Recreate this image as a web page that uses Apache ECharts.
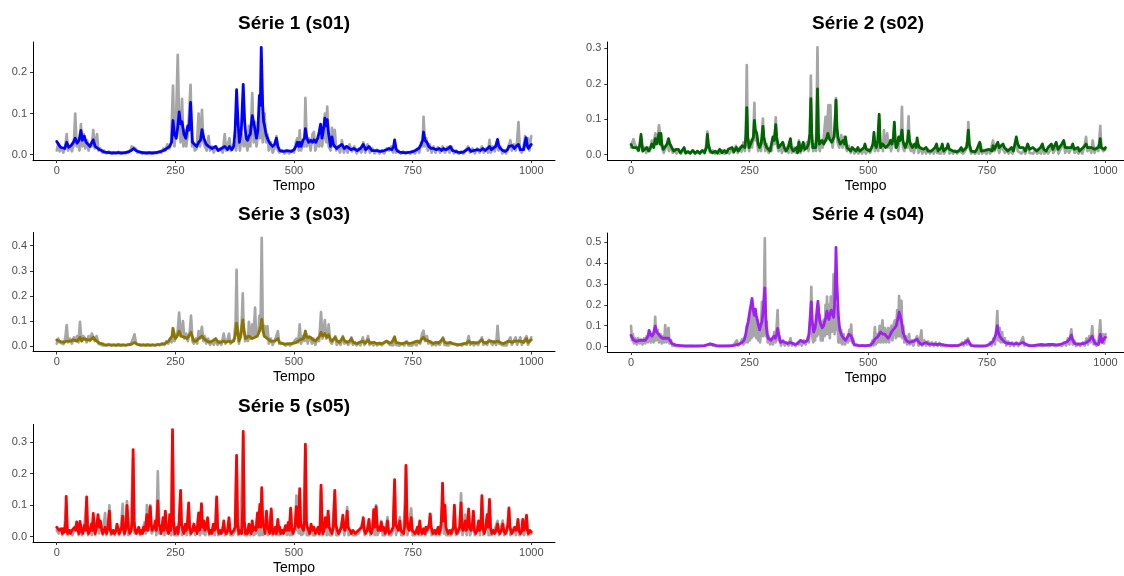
<!DOCTYPE html>
<html><head><meta charset="utf-8">
<script src="https://cdn.jsdelivr.net/npm/echarts@6/dist/echarts.min.js"></script>
<style>html,body{margin:0;padding:0;background:#fff}#c{width:1124px;height:576px}</style>
</head><body><div id="c"></div>
<script>
const titles = ['Série 1 (s01)','Série 2 (s02)','Série 3 (s03)','Série 4 (s04)','Série 5 (s05)'];
const xTicks = [0,250,500,750,1000];
const yTicks1 = [0,0.1,0.2];
const yTicks2 = [0,0.1,0.2,0.3];
const yTicks3 = [0,0.1,0.2,0.3,0.4];
const yTicks4 = [0,0.1,0.2,0.3,0.4,0.5];
const yTicks5 = [0,0.1,0.2,0.3];

const s01 = [[0,0.032],[4,0.025],[8,0.018],[12,0.02],[17,0.015],[21,0.03],[25,0.018],[30,0.022],[35,0.03],[39,0.04],[43,0.028],[47,0.035],[51,0.059],[54,0.035],[58,0.045],[62,0.03],[66,0.025],[70,0.02],[74,0.03],[77,0.036],[81,0.02],[85,0.02],[90,0.012],[95,0.01],[100,0.006],[110,0.005],[120,0.004],[130,0.005],[140,0.004],[150,0.006],[157,0.01],[162,0.015],[167,0.01],[175,0.006],[185,0.004],[195,0.005],[205,0.004],[215,0.006],[225,0.01],[232,0.015],[238,0.02],[242,0.03],[245,0.083],[248,0.05],[252,0.04],[255,0.067],[258,0.104],[261,0.075],[264,0.08],[268,0.05],[272,0.04],[276,0.07],[279,0.06],[282,0.127],[286,0.03],[290,0.025],[295,0.02],[299,0.03],[303,0.035],[306,0.061],[310,0.04],[315,0.025],[320,0.02],[327,0.015],[335,0.02],[340,0.01],[347,0.015],[354,0.02],[360,0.012],[364,0.02],[369,0.012],[373,0.02],[376,0.06],[379,0.158],[382,0.08],[385,0.03],[389,0.06],[393,0.171],[396,0.08],[399,0.04],[402,0.035],[405,0.045],[408,0.05],[412,0.095],[415,0.093],[418,0.06],[421,0.04],[424,0.06],[427,0.144],[429,0.12],[431,0.261],[434,0.12],[436,0.08],[438,0.07],[441,0.05],[444,0.04],[448,0.03],[451,0.025],[455,0.02],[459,0.025],[463,0.04],[466,0.02],[470,0.01],[478,0.008],[485,0.01],[489,0.01],[495,0.008],[500,0.012],[504,0.02],[507,0.03],[510,0.02],[512,0.03],[515,0.02],[519,0.035],[522,0.04],[524,0.063],[527,0.04],[531,0.03],[535,0.035],[539,0.03],[542,0.036],[546,0.03],[550,0.04],[553,0.055],[556,0.074],[559,0.04],[562,0.06],[565,0.089],[567,0.07],[570,0.085],[573,0.05],[577,0.02],[580,0.043],[583,0.025],[586,0.02],[590,0.015],[595,0.02],[601,0.025],[606,0.015],[611,0.02],[615,0.02],[620,0.012],[626,0.015],[633,0.01],[640,0.015],[646,0.025],[651,0.012],[658,0.02],[664,0.01],[670,0.01],[675,0.01],[682,0.008],[690,0.01],[695,0.012],[700,0.015],[706,0.012],[710,0.02],[712,0.036],[715,0.015],[717,0.01],[722,0.006],[730,0.005],[738,0.005],[745,0.006],[752,0.008],[758,0.012],[763,0.015],[768,0.025],[771,0.035],[773,0.055],[776,0.035],[780,0.03],[784,0.02],[789,0.015],[794,0.015],[800,0.012],[806,0.015],[811,0.01],[815,0.015],[820,0.012],[825,0.015],[829,0.02],[834,0.01],[840,0.008],[845,0.006],[850,0.005],[856,0.006],[862,0.01],[868,0.015],[873,0.008],[878,0.01],[882,0.01],[887,0.012],[893,0.01],[898,0.015],[903,0.01],[908,0.015],[912,0.02],[916,0.012],[920,0.015],[925,0.02],[929,0.037],[932,0.02],[935,0.015],[940,0.01],[945,0.008],[950,0.012],[953,0.02],[956,0.02],[960,0.022],[964,0.015],[968,0.02],[973,0.025],[977,0.012],[980,0.01],[984,0.012],[986,0.025],[989,0.041],[992,0.02],[994,0.015],[997,0.02],[1000,0.025]];
const s01ref = [[0,0.01],[3,0.025],[6,0.008],[10,0.015],[14,0.005],[18,0.02],[21,0.05],[24,0.01],[28,0.02],[32,0.008],[36,0.025],[39,0.1],[42,0.02],[45,0.03],[48,0.01],[51,0.074],[54,0.02],[57,0.05],[60,0.015],[64,0.035],[67,0.01],[71,0.025],[74,0.02],[77,0.06],[80,0.015],[85,0.05],[88,0.01],[92,0.015],[96,0.005],[100,0.01],[105,0.003],[110,0.008],[115,0.002],[120,0.006],[125,0.003],[130,0.007],[135,0.002],[140,0.005],[145,0.003],[150,0.008],[155,0.01],[158,0.02],[162,0.02],[166,0.015],[170,0.005],[175,0.008],[180,0.002],[185,0.006],[190,0.002],[195,0.005],[200,0.002],[205,0.006],[210,0.003],[215,0.008],[220,0.005],[225,0.015],[229,0.01],[233,0.025],[237,0.015],[241,0.03],[245,0.168],[248,0.02],[251,0.06],[255,0.243],[258,0.08],[261,0.03],[264,0.136],[267,0.02],[270,0.06],[273,0.02],[276,0.05],[279,0.1],[282,0.17],[285,0.02],[288,0.03],[291,0.01],[295,0.015],[299,0.1],[302,0.02],[306,0.109],[309,0.03],[312,0.02],[316,0.01],[320,0.045],[323,0.01],[327,0.02],[331,0.005],[335,0.02],[340,0.01],[345,0.015],[350,0.005],[354,0.05],[357,0.01],[360,0.02],[364,0.04],[367,0.01],[371,0.02],[375,0.03],[378,0.01],[382,0.06],[386,0.01],[390,0.05],[394,0.02],[398,0.035],[402,0.01],[405,0.07],[408,0.02],[412,0.15],[415,0.03],[418,0.08],[421,0.02],[424,0.05],[428,0.04],[431,0.12],[434,0.03],[438,0.1],[441,0.03],[444,0.05],[447,0.01],[451,0.03],[455,0.005],[459,0.015],[463,0.045],[466,0.01],[470,0.005],[475,0.01],[480,0.003],[485,0.008],[490,0.003],[495,0.01],[500,0.005],[504,0.03],[507,0.04],[510,0.01],[512,0.059],[515,0.01],[519,0.03],[522,0.02],[524,0.138],[527,0.02],[531,0.04],[535,0.01],[539,0.05],[542,0.055],[545,0.01],[549,0.03],[553,0.02],[556,0.06],[559,0.02],[562,0.04],[565,0.1],[568,0.03],[570,0.117],[573,0.02],[577,0.01],[580,0.065],[583,0.02],[586,0.06],[589,0.01],[593,0.02],[597,0.005],[601,0.035],[605,0.005],[609,0.02],[613,0.005],[617,0.025],[622,0.008],[627,0.02],[632,0.003],[637,0.015],[642,0.005],[646,0.03],[650,0.005],[655,0.025],[660,0.005],[665,0.015],[670,0.003],[675,0.012],[680,0.003],[685,0.01],[690,0.003],[695,0.015],[700,0.01],[705,0.02],[709,0.005],[712,0.03],[715,0.005],[720,0.01],[725,0.002],[730,0.008],[735,0.002],[740,0.006],[745,0.002],[750,0.008],[755,0.003],[760,0.015],[764,0.005],[768,0.03],[771,0.02],[773,0.092],[776,0.02],[779,0.04],[782,0.01],[786,0.025],[790,0.005],[794,0.02],[798,0.005],[803,0.018],[808,0.005],[813,0.02],[818,0.005],[823,0.018],[828,0.005],[832,0.02],[837,0.003],[842,0.01],[847,0.002],[852,0.008],[857,0.002],[862,0.012],[867,0.02],[871,0.005],[876,0.015],[881,0.003],[886,0.015],[891,0.005],[896,0.02],[900,0.005],[905,0.015],[909,0.005],[912,0.036],[915,0.005],[919,0.02],[923,0.008],[927,0.03],[931,0.01],[935,0.02],[939,0.003],[943,0.01],[947,0.003],[952,0.02],[956,0.035],[959,0.01],[963,0.025],[967,0.01],[970,0.03],[973,0.079],[976,0.01],[980,0.005],[984,0.02],[987,0.045],[990,0.02],[993,0.04],[996,0.01],[1000,0.045]];

const s02 = [[0,0.029],[4,0.02],[8,0.015],[12,0.02],[16,0.012],[19,0.03],[21,0.057],[23,0.03],[25,0.01],[29,0.015],[33,0.02],[37,0.01],[41,0.02],[44,0.03],[48,0.02],[51,0.045],[54,0.03],[57,0.035],[59,0.06],[61,0.03],[63,0.06],[65,0.03],[68,0.015],[72,0.02],[76,0.03],[79,0.045],[82,0.03],[86,0.02],[90,0.01],[95,0.015],[100,0.015],[104,0.005],[108,0.01],[112,0.02],[115,0.005],[120,0.008],[125,0.004],[130,0.012],[135,0.004],[140,0.01],[145,0.004],[150,0.012],[155,0.006],[159,0.02],[161,0.057],[163,0.03],[167,0.01],[172,0.005],[177,0.01],[182,0.004],[187,0.015],[192,0.005],[197,0.012],[201,0.005],[205,0.015],[209,0.01],[213,0.02],[217,0.008],[222,0.02],[226,0.01],[230,0.015],[234,0.025],[237,0.03],[240,0.02],[242,0.05],[244,0.133],[246,0.05],[249,0.02],[252,0.03],[255,0.04],[258,0.05],[260,0.097],[262,0.07],[265,0.06],[268,0.03],[271,0.02],[274,0.03],[276,0.05],[278,0.08],[280,0.05],[283,0.03],[286,0.02],[290,0.02],[293,0.01],[296,0.03],[299,0.05],[302,0.04],[305,0.085],[307,0.05],[311,0.02],[315,0.015],[320,0.035],[323,0.02],[327,0.01],[331,0.02],[334,0.02],[336,0.045],[338,0.02],[342,0.01],[345,0.015],[349,0.02],[351,0.005],[354,0.035],[357,0.01],[360,0.02],[363,0.035],[366,0.015],[369,0.02],[371,0.02],[374,0.03],[377,0.06],[379,0.158],[381,0.06],[383,0.02],[386,0.025],[389,0.02],[391,0.05],[393,0.186],[395,0.06],[397,0.03],[400,0.035],[403,0.04],[406,0.03],[410,0.04],[413,0.05],[415,0.06],[418,0.045],[420,0.05],[423,0.035],[425,0.03],[428,0.05],[430,0.09],[432,0.154],[434,0.08],[436,0.05],[438,0.04],[441,0.03],[443,0.03],[447,0.04],[450,0.03],[452,0.05],[455,0.02],[459,0.02],[463,0.01],[466,0.02],[470,0.015],[474,0.01],[478,0.02],[482,0.01],[486,0.015],[491,0.02],[493,0.03],[496,0.015],[498,0.015],[503,0.01],[507,0.02],[510,0.03],[512,0.063],[514,0.03],[517,0.02],[520,0.04],[523,0.114],[525,0.04],[526,0.02],[530,0.03],[533,0.03],[537,0.02],[540,0.025],[544,0.03],[547,0.04],[550,0.03],[553,0.05],[555,0.092],[557,0.04],[559,0.02],[562,0.03],[564,0.05],[567,0.04],[569,0.05],[571,0.069],[573,0.04],[575,0.03],[578,0.02],[580,0.02],[583,0.04],[585,0.067],[587,0.04],[589,0.03],[593,0.02],[596,0.025],[598,0.03],[601,0.02],[603,0.047],[605,0.03],[608,0.02],[612,0.025],[616,0.015],[620,0.02],[622,0.02],[626,0.01],[630,0.015],[633,0.01],[637,0.015],[641,0.02],[644,0.03],[647,0.01],[651,0.012],[654,0.02],[656,0.03],[659,0.01],[663,0.015],[666,0.02],[668,0.03],[671,0.015],[675,0.01],[679,0.01],[683,0.015],[687,0.008],[692,0.012],[696,0.02],[699,0.01],[703,0.012],[707,0.02],[709,0.04],[711,0.069],[713,0.03],[717,0.01],[721,0.015],[725,0.008],[729,0.015],[733,0.02],[735,0.035],[738,0.01],[742,0.005],[746,0.012],[750,0.008],[754,0.015],[758,0.02],[761,0.01],[763,0.025],[766,0.015],[770,0.02],[773,0.035],[776,0.02],[780,0.015],[784,0.03],[787,0.02],[790,0.015],[794,0.01],[798,0.015],[802,0.02],[806,0.01],[809,0.03],[812,0.05],[815,0.03],[819,0.02],[823,0.015],[827,0.02],[831,0.01],[836,0.03],[840,0.015],[844,0.01],[847,0.02],[851,0.02],[855,0.01],[859,0.015],[863,0.02],[867,0.03],[870,0.015],[875,0.01],[879,0.02],[883,0.015],[886,0.03],[889,0.015],[893,0.02],[896,0.035],[900,0.015],[904,0.02],[908,0.03],[912,0.04],[915,0.02],[918,0.025],[921,0.02],[925,0.015],[928,0.02],[931,0.03],[934,0.015],[938,0.01],[942,0.02],[945,0.01],[949,0.015],[953,0.02],[956,0.025],[959,0.03],[962,0.02],[966,0.015],[970,0.02],[973,0.025],[977,0.015],[981,0.02],[985,0.02],[987,0.03],[989,0.045],[991,0.02],[994,0.015],[997,0.015],[1000,0.02]];
const s02ref = [[0,0.02],[3,0.035],[5,0.044],[8,0.03],[12,0.035],[15,0.01],[18,0.03],[21,0.05],[24,0.01],[28,0.02],[32,0.005],[36,0.02],[40,0.01],[44,0.04],[47,0.02],[51,0.06],[54,0.04],[57,0.06],[59,0.083],[62,0.05],[65,0.02],[69,0.005],[73,0.02],[77,0.035],[80,0.01],[84,0.025],[88,0.005],[92,0.015],[96,0.003],[100,0.012],[105,0.003],[110,0.015],[115,0.003],[120,0.01],[125,0.003],[130,0.01],[135,0.002],[140,0.008],[145,0.003],[150,0.01],[155,0.003],[159,0.03],[161,0.065],[163,0.02],[167,0.005],[172,0.012],[177,0.003],[182,0.01],[187,0.003],[192,0.012],[197,0.003],[202,0.01],[207,0.003],[212,0.015],[216,0.005],[221,0.025],[225,0.005],[229,0.02],[233,0.008],[237,0.035],[240,0.01],[242,0.06],[244,0.253],[246,0.03],[249,0.01],[252,0.04],[255,0.02],[258,0.06],[260,0.146],[262,0.04],[265,0.05],[268,0.01],[271,0.03],[274,0.01],[276,0.06],[278,0.102],[280,0.04],[283,0.01],[286,0.03],[290,0.005],[293,0.02],[296,0.01],[299,0.04],[302,0.03],[305,0.105],[307,0.03],[311,0.01],[315,0.025],[318,0.005],[320,0.03],[324,0.01],[328,0.02],[332,0.005],[336,0.04],[339,0.005],[343,0.02],[347,0.005],[351,0.02],[354,0.04],[357,0.005],[361,0.03],[364,0.01],[368,0.025],[371,0.035],[374,0.01],[377,0.05],[379,0.223],[381,0.04],[384,0.01],[387,0.03],[390,0.01],[393,0.303],[395,0.03],[398,0.01],[401,0.04],[404,0.02],[407,0.06],[410,0.107],[412,0.04],[414,0.09],[416,0.14],[418,0.06],[420,0.14],[422,0.05],[425,0.02],[428,0.06],[430,0.1],[432,0.16],[434,0.05],[436,0.03],[439,0.02],[443,0.055],[446,0.02],[449,0.05],[452,0.03],[455,0.01],[459,0.025],[463,0.005],[467,0.02],[471,0.003],[475,0.015],[479,0.003],[483,0.012],[487,0.003],[491,0.015],[495,0.003],[500,0.015],[504,0.005],[508,0.02],[512,0.05],[514,0.01],[518,0.03],[521,0.01],[523,0.1],[525,0.02],[528,0.03],[531,0.01],[533,0.069],[535,0.03],[538,0.04],[540,0.06],[542,0.02],[545,0.04],[548,0.01],[551,0.03],[553,0.04],[555,0.08],[557,0.02],[560,0.03],[563,0.01],[566,0.04],[569,0.06],[571,0.135],[573,0.02],[576,0.01],[579,0.03],[582,0.02],[585,0.108],[587,0.02],[590,0.01],[593,0.03],[596,0.005],[599,0.02],[603,0.04],[606,0.005],[610,0.02],[614,0.003],[618,0.015],[622,0.003],[626,0.015],[630,0.003],[634,0.012],[638,0.003],[642,0.025],[645,0.005],[649,0.01],[653,0.003],[656,0.025],[660,0.003],[664,0.015],[668,0.025],[671,0.003],[675,0.01],[679,0.003],[683,0.012],[687,0.003],[692,0.01],[696,0.015],[700,0.003],[705,0.012],[709,0.03],[711,0.092],[713,0.02],[717,0.003],[721,0.01],[725,0.002],[729,0.01],[733,0.003],[737,0.03],[740,0.003],[745,0.01],[749,0.002],[753,0.012],[757,0.003],[761,0.03],[763,0.04],[766,0.01],[770,0.03],[773,0.02],[776,0.005],[780,0.025],[784,0.03],[788,0.005],[792,0.015],[796,0.003],[800,0.012],[804,0.003],[808,0.02],[812,0.04],[815,0.01],[819,0.015],[823,0.003],[827,0.012],[831,0.003],[836,0.025],[840,0.005],[844,0.01],[848,0.003],[852,0.015],[856,0.003],[860,0.01],[864,0.003],[867,0.025],[871,0.003],[875,0.012],[879,0.003],[883,0.012],[887,0.025],[890,0.005],[894,0.015],[897,0.03],[901,0.003],[905,0.015],[909,0.02],[912,0.035],[915,0.005],[919,0.02],[923,0.005],[927,0.015],[931,0.025],[935,0.005],[939,0.012],[943,0.003],[947,0.012],[951,0.003],[955,0.02],[959,0.05],[962,0.01],[966,0.02],[970,0.005],[973,0.04],[977,0.005],[981,0.02],[985,0.01],[987,0.04],[989,0.081],[991,0.02],[995,0.01],[1000,0.015]];

const s03 = [[0,0.024],[4,0.02],[8,0.018],[12,0.02],[16,0.015],[21,0.02],[25,0.015],[30,0.02],[35,0.025],[39,0.03],[43,0.02],[46,0.025],[49,0.035],[53,0.02],[56,0.03],[60,0.037],[64,0.025],[68,0.02],[72,0.025],[77,0.035],[81,0.025],[85,0.02],[90,0.012],[95,0.01],[100,0.006],[110,0.005],[120,0.004],[130,0.005],[140,0.004],[150,0.005],[158,0.008],[164,0.015],[170,0.007],[180,0.004],[190,0.005],[200,0.004],[210,0.005],[220,0.007],[228,0.01],[232,0.015],[236,0.02],[240,0.025],[243,0.04],[245,0.071],[248,0.04],[250,0.03],[254,0.04],[258,0.06],[262,0.04],[266,0.04],[270,0.035],[275,0.03],[279,0.035],[283,0.055],[286,0.035],[289,0.02],[294,0.02],[299,0.03],[303,0.03],[306,0.04],[310,0.03],[314,0.025],[317,0.02],[322,0.015],[328,0.02],[335,0.03],[340,0.015],[346,0.015],[352,0.02],[357,0.015],[363,0.02],[368,0.015],[373,0.02],[376,0.04],[379,0.091],[382,0.05],[384,0.02],[388,0.04],[392,0.104],[395,0.06],[398,0.03],[402,0.035],[405,0.04],[409,0.035],[412,0.03],[415,0.035],[418,0.035],[421,0.035],[423,0.04],[427,0.06],[430,0.08],[432,0.107],[435,0.06],[437,0.04],[441,0.035],[444,0.03],[448,0.025],[451,0.02],[455,0.015],[459,0.02],[463,0.025],[466,0.03],[469,0.015],[472,0.01],[480,0.008],[487,0.01],[493,0.01],[500,0.012],[505,0.015],[509,0.02],[512,0.025],[516,0.02],[520,0.03],[524,0.06],[527,0.035],[531,0.03],[535,0.035],[540,0.025],[545,0.02],[550,0.03],[554,0.04],[557,0.055],[561,0.04],[565,0.05],[569,0.035],[573,0.045],[576,0.03],[580,0.02],[584,0.025],[587,0.035],[591,0.02],[596,0.015],[600,0.02],[603,0.035],[607,0.02],[612,0.015],[617,0.02],[621,0.03],[625,0.015],[629,0.012],[633,0.01],[638,0.015],[642,0.02],[645,0.02],[650,0.012],[656,0.025],[660,0.012],[664,0.015],[668,0.015],[674,0.01],[680,0.012],[686,0.01],[691,0.015],[696,0.02],[701,0.012],[706,0.015],[709,0.02],[712,0.037],[715,0.015],[717,0.01],[722,0.012],[727,0.01],[732,0.012],[737,0.015],[742,0.01],[747,0.012],[752,0.015],[759,0.02],[764,0.015],[768,0.025],[773,0.035],[777,0.025],[780,0.03],[784,0.02],[789,0.015],[794,0.01],[799,0.015],[804,0.012],[809,0.02],[814,0.03],[818,0.015],[823,0.012],[829,0.015],[834,0.01],[840,0.008],[847,0.005],[853,0.008],[858,0.01],[864,0.012],[868,0.02],[873,0.012],[878,0.015],[883,0.012],[889,0.015],[893,0.02],[896,0.025],[900,0.015],[905,0.012],[910,0.02],[915,0.02],[919,0.025],[923,0.015],[926,0.02],[929,0.02],[933,0.015],[937,0.012],[942,0.01],[947,0.015],[952,0.02],[956,0.025],[960,0.015],[965,0.02],[970,0.02],[974,0.015],[977,0.02],[980,0.02],[984,0.015],[987,0.02],[990,0.03],[993,0.015],[997,0.02],[1000,0.025]];
const s03ref = [[0,0.01],[3,0.03],[6,0.015],[10,0.02],[14,0.008],[18,0.03],[21,0.084],[24,0.015],[28,0.03],[32,0.01],[36,0.035],[39,0.02],[43,0.04],[46,0.015],[49,0.097],[52,0.02],[56,0.04],[60,0.03],[63,0.015],[67,0.04],[70,0.02],[74,0.05],[77,0.055],[80,0.02],[84,0.04],[88,0.01],[92,0.015],[96,0.003],[100,0.01],[105,0.002],[110,0.008],[115,0.002],[120,0.007],[125,0.002],[130,0.008],[135,0.002],[140,0.006],[145,0.002],[150,0.008],[155,0.005],[160,0.025],[164,0.047],[167,0.01],[172,0.005],[177,0.002],[182,0.007],[187,0.002],[192,0.006],[197,0.002],[202,0.007],[207,0.002],[212,0.008],[217,0.003],[222,0.012],[227,0.005],[231,0.02],[235,0.01],[239,0.03],[242,0.015],[245,0.06],[248,0.02],[251,0.04],[255,0.06],[258,0.133],[261,0.04],[264,0.06],[266,0.1],[269,0.03],[273,0.05],[276,0.02],[280,0.05],[283,0.121],[286,0.02],[289,0.01],[293,0.03],[296,0.01],[299,0.06],[302,0.03],[306,0.077],[309,0.02],[312,0.04],[315,0.01],[319,0.03],[323,0.005],[327,0.02],[331,0.005],[335,0.025],[339,0.005],[343,0.02],[347,0.005],[352,0.05],[355,0.01],[359,0.02],[363,0.05],[366,0.01],[370,0.02],[374,0.03],[377,0.1],[379,0.304],[381,0.08],[384,0.01],[388,0.05],[390,0.1],[392,0.21],[394,0.07],[397,0.02],[400,0.04],[403,0.02],[405,0.097],[408,0.03],[411,0.06],[412,0.087],[415,0.04],[418,0.153],[420,0.04],[423,0.06],[425,0.05],[427,0.12],[429,0.06],[430,0.15],[432,0.431],[434,0.1],[436,0.06],[438,0.08],[441,0.04],[444,0.08],[447,0.01],[451,0.03],[455,0.005],[459,0.02],[463,0.04],[466,0.06],[469,0.01],[473,0.005],[477,0.01],[482,0.002],[487,0.008],[492,0.002],[497,0.01],[501,0.005],[505,0.03],[509,0.015],[512,0.087],[515,0.01],[519,0.04],[522,0.02],[525,0.05],[529,0.01],[532,0.04],[535,0.04],[538,0.01],[541,0.03],[545,0.005],[549,0.03],[553,0.02],[557,0.135],[560,0.03],[563,0.06],[565,0.104],[568,0.03],[571,0.04],[573,0.087],[576,0.02],[580,0.01],[584,0.03],[587,0.04],[590,0.005],[594,0.02],[598,0.005],[603,0.04],[606,0.01],[610,0.02],[614,0.005],[618,0.015],[621,0.035],[624,0.005],[628,0.015],[632,0.003],[636,0.012],[640,0.003],[645,0.035],[648,0.005],[652,0.015],[656,0.04],[659,0.005],[663,0.015],[667,0.003],[671,0.012],[675,0.003],[680,0.01],[685,0.003],[690,0.012],[694,0.02],[698,0.025],[702,0.005],[706,0.012],[709,0.003],[712,0.035],[715,0.005],[719,0.01],[723,0.002],[728,0.01],[732,0.002],[737,0.02],[741,0.003],[745,0.01],[749,0.002],[754,0.012],[758,0.003],[762,0.02],[766,0.01],[770,0.05],[773,0.061],[776,0.02],[780,0.04],[783,0.01],[787,0.02],[791,0.003],[795,0.012],[799,0.003],[803,0.015],[807,0.005],[811,0.02],[814,0.035],[817,0.005],[821,0.012],[825,0.003],[830,0.01],[834,0.003],[839,0.008],[844,0.002],[849,0.006],[854,0.002],[859,0.01],[864,0.005],[868,0.04],[871,0.005],[875,0.015],[879,0.003],[884,0.015],[888,0.005],[892,0.02],[896,0.035],[899,0.005],[903,0.015],[907,0.005],[911,0.025],[915,0.03],[918,0.005],[922,0.02],[926,0.005],[929,0.081],[932,0.01],[936,0.015],[940,0.003],[944,0.01],[948,0.003],[952,0.02],[956,0.035],[959,0.005],[963,0.02],[967,0.035],[970,0.005],[974,0.02],[977,0.035],[980,0.005],[984,0.02],[987,0.03],[990,0.04],[993,0.005],[997,0.02],[1000,0.035]];

const s04 = [[0,0.054],[3,0.04],[6,0.03],[8,0.03],[11,0.025],[15,0.025],[18,0.03],[21,0.025],[23,0.03],[27,0.025],[30,0.03],[33,0.035],[36,0.05],[38,0.078],[41,0.06],[44,0.05],[47,0.06],[51,0.098],[54,0.07],[58,0.06],[61,0.05],[63,0.045],[66,0.04],[69,0.035],[72,0.04],[76,0.045],[79,0.04],[82,0.03],[86,0.015],[90,0.01],[95,0.007],[104,0.005],[115,0.003],[125,0.003],[135,0.003],[145,0.003],[155,0.005],[162,0.01],[167,0.012],[173,0.01],[180,0.005],[190,0.003],[200,0.003],[210,0.003],[218,0.006],[223,0.01],[228,0.012],[234,0.02],[238,0.03],[241,0.05],[244,0.09],[247,0.12],[249,0.15],[252,0.19],[255,0.231],[258,0.17],[260,0.15],[262,0.18],[264,0.15],[267,0.12],[269,0.1],[271,0.08],[273,0.1],[276,0.12],[278,0.16],[280,0.22],[282,0.282],[284,0.15],[285,0.1],[287,0.06],[289,0.04],[292,0.035],[295,0.03],[298,0.04],[301,0.05],[304,0.04],[307,0.06],[309,0.087],[312,0.05],[315,0.02],[320,0.025],[325,0.02],[330,0.015],[336,0.02],[341,0.015],[346,0.01],[351,0.015],[354,0.02],[357,0.03],[361,0.025],[365,0.02],[368,0.02],[372,0.03],[375,0.06],[378,0.15],[380,0.215],[382,0.12],[385,0.07],[388,0.09],[390,0.12],[392,0.18],[394,0.218],[396,0.16],[398,0.12],[401,0.1],[403,0.09],[406,0.1],[408,0.12],[411,0.14],[413,0.17],[415,0.15],[417,0.13],[419,0.15],[422,0.175],[424,0.16],[427,0.14],[429,0.2],[431,0.35],[432,0.476],[434,0.3],[437,0.15],[439,0.1],[440,0.08],[443,0.06],[445,0.05],[448,0.04],[452,0.03],[455,0.04],[457,0.05],[459,0.06],[462,0.055],[464,0.05],[467,0.03],[470,0.01],[477,0.006],[484,0.005],[491,0.005],[498,0.005],[505,0.008],[510,0.02],[514,0.035],[517,0.04],[521,0.05],[524,0.055],[526,0.07],[528,0.065],[530,0.06],[533,0.055],[535,0.06],[538,0.05],[542,0.04],[545,0.05],[549,0.07],[552,0.08],[556,0.09],[559,0.1],[561,0.12],[563,0.14],[565,0.166],[567,0.15],[570,0.12],[572,0.09],[573,0.07],[576,0.05],[580,0.03],[583,0.025],[586,0.02],[590,0.02],[594,0.025],[598,0.025],[603,0.035],[607,0.02],[612,0.01],[617,0.015],[622,0.02],[627,0.012],[631,0.01],[636,0.012],[640,0.015],[645,0.01],[650,0.012],[654,0.015],[660,0.008],[666,0.006],[672,0.005],[680,0.005],[689,0.005],[695,0.01],[700,0.015],[705,0.02],[710,0.03],[713,0.02],[717,0.005],[725,0.003],[735,0.003],[742,0.003],[750,0.005],[755,0.01],[759,0.015],[763,0.025],[766,0.04],[769,0.06],[772,0.1],[774,0.07],[777,0.05],[780,0.04],[784,0.03],[788,0.02],[794,0.015],[800,0.015],[806,0.012],[812,0.015],[818,0.012],[822,0.015],[826,0.02],[830,0.012],[835,0.008],[840,0.005],[848,0.005],[857,0.008],[865,0.01],[872,0.008],[880,0.01],[889,0.01],[897,0.008],[904,0.01],[910,0.015],[915,0.02],[920,0.025],[924,0.035],[928,0.055],[931,0.03],[935,0.015],[940,0.012],[945,0.012],[949,0.015],[955,0.015],[960,0.02],[963,0.025],[966,0.03],[969,0.04],[972,0.05],[975,0.03],[978,0.015],[980,0.01],[985,0.01],[987,0.025],[989,0.058],[991,0.04],[993,0.02],[996,0.035],[1000,0.045]];
const s04ref = [[0,0.1],[2,0.03],[4,0.06],[6,0.015],[9,0.04],[12,0.01],[15,0.04],[18,0.015],[21,0.035],[24,0.01],[27,0.04],[30,0.015],[33,0.05],[36,0.02],[39,0.07],[42,0.02],[45,0.06],[48,0.02],[51,0.143],[53,0.03],[56,0.08],[59,0.02],[62,0.06],[65,0.015],[68,0.05],[70,0.02],[72,0.103],[75,0.02],[77,0.07],[79,0.09],[81,0.015],[84,0.03],[87,0.005],[91,0.01],[96,0.002],[105,0.003],[115,0.001],[125,0.002],[135,0.001],[145,0.002],[155,0.003],[162,0.008],[167,0.015],[172,0.005],[180,0.002],[190,0.002],[200,0.002],[210,0.003],[216,0.008],[220,0.003],[223,0.03],[226,0.005],[230,0.015],[234,0.035],[237,0.01],[240,0.05],[242,0.02],[244,0.1],[246,0.02],[248,0.12],[250,0.03],[252,0.15],[254,0.04],[256,0.2],[258,0.05],[260,0.14],[262,0.18],[264,0.04],[266,0.13],[268,0.03],[270,0.09],[272,0.02],[274,0.1],[276,0.215],[278,0.05],[280,0.2],[282,0.519],[284,0.05],[286,0.12],[288,0.02],[290,0.05],[293,0.01],[296,0.04],[299,0.01],[302,0.07],[305,0.02],[307,0.1],[309,0.175],[311,0.03],[313,0.05],[316,0.005],[320,0.03],[324,0.005],[328,0.02],[332,0.005],[336,0.04],[339,0.005],[343,0.015],[347,0.003],[351,0.02],[354,0.01],[357,0.03],[360,0.005],[364,0.03],[368,0.01],[372,0.04],[375,0.02],[377,0.1],[379,0.2],[380,0.287],[382,0.05],[384,0.02],[386,0.1],[388,0.03],[390,0.15],[392,0.05],[394,0.2],[396,0.06],[398,0.15],[400,0.03],[402,0.12],[404,0.03],[406,0.13],[408,0.05],[410,0.2],[412,0.06],[413,0.24],[415,0.06],[417,0.2],[419,0.04],[421,0.24],[423,0.07],[425,0.18],[427,0.346],[429,0.06],[431,0.2],[433,0.08],[435,0.15],[437,0.02],[439,0.1],[441,0.02],[443,0.08],[445,0.01],[448,0.06],[451,0.01],[454,0.04],[457,0.02],[460,0.08],[462,0.03],[464,0.106],[466,0.02],[468,0.04],[471,0.005],[476,0.01],[481,0.002],[487,0.006],[493,0.002],[499,0.006],[505,0.002],[509,0.03],[511,0.005],[514,0.094],[516,0.01],[519,0.06],[521,0.02],[524,0.1],[526,0.02],[528,0.08],[530,0.126],[532,0.02],[535,0.09],[538,0.02],[540,0.07],[542,0.09],[544,0.02],[547,0.08],[549,0.1],[551,0.03],[554,0.11],[556,0.126],[558,0.04],[561,0.175],[563,0.05],[565,0.242],[567,0.05],[570,0.22],[572,0.04],[574,0.1],[576,0.02],[579,0.05],[582,0.01],[586,0.06],[588,0.01],[592,0.03],[595,0.005],[599,0.03],[603,0.05],[606,0.005],[609,0.03],[612,0.078],[614,0.005],[618,0.03],[622,0.005],[626,0.025],[630,0.003],[634,0.02],[638,0.003],[642,0.02],[646,0.003],[650,0.018],[654,0.003],[658,0.01],[664,0.002],[670,0.006],[676,0.002],[682,0.005],[688,0.002],[694,0.008],[698,0.02],[701,0.005],[705,0.03],[708,0.01],[710,0.04],[713,0.01],[717,0.002],[725,0.002],[735,0.001],[745,0.002],[752,0.005],[757,0.02],[760,0.005],[764,0.04],[767,0.01],[770,0.08],[772,0.17],[774,0.03],[777,0.09],[779,0.02],[782,0.07],[784,0.02],[788,0.04],[791,0.005],[795,0.025],[799,0.003],[803,0.02],[807,0.003],[812,0.02],[816,0.003],[821,0.02],[826,0.045],[829,0.005],[834,0.01],[839,0.002],[846,0.005],[853,0.002],[860,0.006],[867,0.002],[874,0.006],[881,0.002],[888,0.008],[895,0.002],[902,0.008],[908,0.003],[913,0.02],[917,0.005],[921,0.04],[924,0.01],[928,0.083],[931,0.01],[934,0.03],[938,0.003],[943,0.015],[947,0.003],[952,0.02],[956,0.005],[960,0.04],[963,0.01],[966,0.05],[969,0.02],[972,0.098],[975,0.01],[978,0.03],[981,0.003],[985,0.02],[987,0.07],[989,0.126],[991,0.02],[994,0.06],[997,0.015],[1000,0.06]];

const s05 = [[0,0.03],[2,0.032],[5,0.02],[7,0.015],[10,0.025],[12,0.01],[14,0.025],[17,0.015],[19,0.05],[20,0.128],[22,0.03],[23,0.01],[26,0.02],[29,0.01],[32,0.02],[35,0.015],[38,0.03],[40,0.02],[42,0.047],[45,0.02],[47,0.01],[49,0.048],[52,0.02],[55,0.01],[58,0.035],[61,0.02],[63,0.126],[65,0.03],[67,0.01],[70,0.02],[73,0.04],[75,0.02],[77,0.074],[79,0.03],[81,0.01],[84,0.03],[87,0.07],[90,0.03],[92,0.05],[95,0.02],[97,0.01],[100,0.02],[102,0.03],[105,0.01],[108,0.03],[111,0.081],[113,0.02],[116,0.01],[119,0.02],[122,0.01],[125,0.02],[127,0.04],[130,0.02],[132,0.01],[134,0.02],[137,0.03],[139,0.065],[141,0.02],[143,0.01],[146,0.03],[148,0.099],[151,0.03],[154,0.01],[157,0.02],[159,0.05],[161,0.276],[163,0.05],[165,0.02],[168,0.01],[170,0.02],[173,0.03],[176,0.01],[179,0.02],[181,0.01],[183,0.03],[186,0.02],[188,0.04],[190,0.07],[192,0.02],[195,0.05],[197,0.095],[199,0.04],[201,0.02],[203,0.02],[205,0.03],[208,0.05],[210,0.02],[213,0.113],[215,0.04],[218,0.03],[220,0.01],[222,0.03],[224,0.06],[226,0.02],[229,0.081],[231,0.03],[234,0.03],[236,0.01],[238,0.07],[240,0.02],[242,0.05],[244,0.339],[246,0.05],[249,0.01],[251,0.02],[254,0.03],[256,0.01],[258,0.05],[261,0.147],[263,0.04],[266,0.02],[268,0.01],[271,0.04],[273,0.02],[275,0.03],[278,0.107],[280,0.03],[283,0.01],[286,0.02],[289,0.04],[291,0.02],[294,0.03],[296,0.01],[299,0.075],[301,0.02],[303,0.04],[305,0.105],[307,0.03],[310,0.05],[312,0.02],[315,0.03],[318,0.06],[320,0.02],[322,0.01],[324,0.02],[327,0.01],[330,0.04],[332,0.02],[335,0.03],[337,0.126],[339,0.03],[342,0.01],[345,0.02],[347,0.01],[350,0.02],[352,0.05],[354,0.02],[357,0.01],[360,0.02],[363,0.06],[365,0.02],[368,0.01],[370,0.01],[373,0.02],[376,0.03],[377,0.1],[379,0.258],[381,0.04],[384,0.01],[387,0.02],[390,0.01],[392,0.1],[393,0.334],[395,0.05],[398,0.01],[400,0.02],[402,0.01],[405,0.04],[407,0.02],[410,0.01],[412,0.05],[414,0.02],[417,0.03],[420,0.02],[423,0.075],[425,0.03],[428,0.102],[430,0.03],[432,0.155],[434,0.04],[437,0.03],[439,0.01],[442,0.081],[444,0.03],[447,0.02],[449,0.01],[452,0.088],[454,0.03],[456,0.01],[458,0.02],[461,0.03],[463,0.01],[466,0.055],[468,0.02],[470,0.03],[472,0.01],[475,0.02],[478,0.01],[480,0.02],[482,0.035],[485,0.02],[488,0.045],[490,0.02],[493,0.09],[495,0.03],[498,0.01],[500,0.02],[502,0.03],[505,0.095],[507,0.04],[510,0.03],[512,0.152],[514,0.04],[517,0.03],[520,0.02],[522,0.05],[524,0.293],[526,0.05],[528,0.03],[531,0.02],[533,0.01],[536,0.04],[539,0.02],[542,0.03],[545,0.01],[548,0.02],[551,0.03],[553,0.01],[555,0.02],[557,0.163],[559,0.04],[561,0.01],[563,0.02],[566,0.06],[568,0.03],[570,0.04],[572,0.081],[574,0.03],[577,0.02],[580,0.01],[583,0.03],[586,0.147],[588,0.04],[591,0.02],[594,0.01],[597,0.02],[600,0.03],[603,0.068],[605,0.03],[607,0.02],[610,0.04],[612,0.081],[614,0.03],[618,0.02],[621,0.01],[624,0.02],[626,0.02],[629,0.01],[633,0.01],[636,0.02],[640,0.02],[643,0.03],[646,0.06],[648,0.02],[651,0.01],[654,0.02],[656,0.03],[658,0.055],[660,0.02],[663,0.01],[666,0.03],[668,0.086],[670,0.03],[673,0.094],[675,0.04],[677,0.02],[679,0.03],[682,0.02],[684,0.045],[686,0.02],[689,0.03],[692,0.01],[695,0.02],[697,0.05],[699,0.02],[701,0.01],[703,0.01],[706,0.02],[709,0.03],[710,0.08],[712,0.181],[714,0.04],[717,0.03],[720,0.02],[723,0.05],[725,0.02],[728,0.02],[731,0.01],[733,0.03],[735,0.1],[736,0.226],[738,0.06],[740,0.03],[743,0.02],[745,0.04],[747,0.06],[749,0.02],[752,0.02],[755,0.01],[758,0.02],[760,0.03],[762,0.01],[765,0.05],[767,0.02],[770,0.01],[773,0.025],[776,0.01],[778,0.03],[780,0.02],[783,0.03],[785,0.04],[787,0.072],[789,0.03],[791,0.02],[793,0.01],[796,0.02],[799,0.01],[801,0.02],[804,0.03],[806,0.01],[808,0.02],[810,0.04],[812,0.1],[813,0.17],[815,0.05],[818,0.1],[820,0.03],[822,0.02],[825,0.01],[828,0.02],[831,0.01],[833,0.01],[836,0.03],[838,0.1],[840,0.03],[843,0.01],[846,0.02],[849,0.03],[852,0.107],[854,0.03],[856,0.02],[858,0.03],[861,0.05],[863,0.02],[865,0.03],[868,0.088],[870,0.03],[873,0.02],[876,0.04],[878,0.081],[880,0.02],[883,0.01],[886,0.02],[889,0.05],[891,0.02],[894,0.03],[896,0.13],[898,0.03],[901,0.01],[904,0.03],[907,0.07],[909,0.03],[912,0.118],[914,0.03],[917,0.01],[920,0.02],[923,0.01],[926,0.02],[929,0.04],[931,0.02],[934,0.01],[937,0.02],[940,0.04],[942,0.02],[945,0.01],[948,0.02],[951,0.04],[953,0.091],[955,0.03],[957,0.02],[959,0.01],[962,0.02],[965,0.03],[968,0.02],[970,0.03],[972,0.055],[974,0.02],[977,0.01],[980,0.02],[982,0.055],[984,0.02],[987,0.03],[990,0.068],[992,0.02],[994,0.01],[997,0.02],[1000,0.015]];
const s05ref = [[0,0.02],[4,0.01],[8,0.025],[12,0.005],[16,0.02],[20,0.1],[23,0.005],[28,0.02],[33,0.005],[38,0.025],[42,0.04],[46,0.005],[49,0.04],[53,0.005],[58,0.03],[63,0.11],[66,0.005],[70,0.02],[74,0.005],[77,0.06],[81,0.005],[85,0.05],[89,0.01],[93,0.04],[97,0.005],[102,0.075],[105,0.005],[108,0.03],[111,0.099],[114,0.005],[118,0.02],[122,0.005],[127,0.03],[131,0.005],[135,0.02],[139,0.104],[142,0.005],[145,0.02],[148,0.113],[151,0.005],[156,0.02],[161,0.25],[164,0.01],[168,0.005],[172,0.02],[176,0.005],[181,0.02],[185,0.045],[188,0.01],[190,0.1],[193,0.02],[197,0.1],[200,0.01],[204,0.02],[208,0.04],[210,0.005],[213,0.207],[216,0.01],[220,0.005],[224,0.05],[227,0.005],[229,0.07],[232,0.01],[236,0.005],[238,0.05],[241,0.005],[244,0.32],[247,0.005],[251,0.01],[255,0.005],[258,0.04],[261,0.13],[264,0.005],[268,0.005],[271,0.03],[274,0.005],[278,0.1],[281,0.005],[285,0.01],[289,0.03],[292,0.005],[296,0.005],[299,0.07],[302,0.005],[305,0.1],[308,0.01],[310,0.04],[313,0.005],[318,0.05],[321,0.005],[325,0.01],[330,0.03],[333,0.005],[337,0.12],[340,0.005],[345,0.01],[349,0.005],[352,0.04],[355,0.005],[360,0.01],[363,0.05],[366,0.005],[371,0.005],[376,0.02],[379,0.24],[382,0.005],[387,0.01],[390,0.005],[393,0.32],[396,0.005],[401,0.005],[405,0.03],[408,0.005],[412,0.04],[415,0.005],[420,0.01],[423,0.07],[426,0.005],[428,0.09],[430,0.005],[432,0.14],[435,0.005],[439,0.005],[442,0.07],[445,0.005],[449,0.005],[452,0.08],[455,0.005],[460,0.02],[463,0.005],[466,0.05],[469,0.005],[474,0.01],[478,0.005],[482,0.03],[485,0.005],[488,0.04],[491,0.005],[493,0.09],[496,0.005],[500,0.01],[503,0.03],[505,0.13],[507,0.02],[508,0.126],[510,0.01],[512,0.14],[515,0.005],[520,0.01],[524,0.28],[527,0.005],[532,0.005],[536,0.03],[540,0.005],[545,0.005],[551,0.02],[554,0.005],[557,0.15],[560,0.005],[563,0.01],[566,0.05],[569,0.005],[572,0.07],[575,0.005],[580,0.005],[586,0.14],[589,0.005],[594,0.005],[598,0.01],[603,0.06],[606,0.005],[610,0.03],[612,0.094],[615,0.005],[620,0.01],[625,0.005],[630,0.005],[636,0.01],[640,0.005],[646,0.05],[649,0.005],[653,0.01],[658,0.05],[661,0.005],[665,0.02],[668,0.08],[670,0.005],[673,0.1],[676,0.005],[680,0.02],[684,0.05],[687,0.005],[692,0.005],[697,0.062],[700,0.005],[705,0.005],[709,0.02],[712,0.17],[715,0.005],[719,0.01],[723,0.062],[726,0.005],[731,0.005],[736,0.22],[739,0.005],[743,0.01],[747,0.09],[750,0.005],[755,0.005],[760,0.02],[763,0.005],[765,0.04],[768,0.005],[773,0.02],[777,0.005],[781,0.01],[785,0.03],[787,0.065],[790,0.005],[795,0.01],[800,0.005],[804,0.02],[807,0.005],[810,0.03],[813,0.16],[816,0.01],[818,0.09],[821,0.005],[826,0.005],[831,0.005],[836,0.02],[838,0.09],[841,0.005],[846,0.01],[849,0.02],[852,0.137],[855,0.005],[858,0.02],[861,0.07],[864,0.005],[868,0.08],[871,0.005],[876,0.03],[878,0.075],[881,0.005],[885,0.01],[889,0.04],[892,0.005],[896,0.12],[899,0.005],[903,0.02],[907,0.06],[910,0.005],[912,0.11],[915,0.005],[920,0.01],[924,0.005],[929,0.05],[932,0.005],[936,0.01],[940,0.051],[943,0.005],[948,0.01],[953,0.085],[956,0.005],[960,0.005],[965,0.02],[968,0.005],[972,0.05],[975,0.005],[980,0.01],[982,0.05],[985,0.005],[990,0.06],[993,0.005],[997,0.01],[1000,0.01]];

// ---- layout (pixels) ----
const FONT = '"Liberation Sans", Arial, Helvetica, sans-serif';
const layout = [
  {left:33,    top:42,    width:522,   height:118,   xmax:1050},
  {left:607.3, top:42,    width:516.7, height:118,   xmax:1039},
  {left:33,    top:232.5, width:522,   height:119,   xmax:1050},
  {left:607.3, top:233,   width:516.7, height:119,   xmax:1039},
  {left:33,    top:424.4, width:522,   height:118.3, xmax:1050}
];
const colors = ['#0000ff','#006400','#8b7500','#a020f0','#ff0000'];
const mains = [s01,s02,s03,s04,s05];
const refs = [s01ref,s02ref,s03ref,s04ref,s05ref];
const yTicks = [yTicks1,yTicks2,yTicks3,yTicks4,yTicks5];

const grid = [], xAxis = [], yAxis = [], series = [], graphic = [];
for (let i = 0; i < 5; i++) {
  const L = layout[i];
  grid.push({left:L.left, top:L.top, width:L.width, height:L.height, containLabel:false});
  let lo = Infinity, hi = -Infinity;
  for (const arr of [mains[i], refs[i]]) for (const p of arr) { if (p[1] < lo) lo = p[1]; if (p[1] > hi) hi = p[1]; }
  lo = Math.min(lo, 0);
  const pad = (hi - lo) * 0.05;
  xAxis.push({
    type:'value', gridIndex:i, min:-50, max:L.xmax,
    name:'Tempo', nameLocation:'middle', nameGap:19,
    nameTextStyle:{fontSize:14, color:'#000', fontFamily:FONT},
    axisLine:{show:true, onZero:false, lineStyle:{color:'#000', width:1}},
    axisTick:{show:true, length:3, lineStyle:{color:'#333'}, customValues:xTicks},
    axisLabel:{show:true, fontSize:11, color:'#4d4d4d', margin:5, fontFamily:FONT, customValues:xTicks,
               formatter: v => String(Math.round(v))},
    splitLine:{show:false}
  });
  yAxis.push({
    type:'value', gridIndex:i, min:lo - pad, max:hi + pad,
    axisLine:{show:true, onZero:false, lineStyle:{color:'#000', width:1}},
    axisTick:{show:true, length:3, lineStyle:{color:'#333'}, customValues:yTicks[i]},
    axisLabel:{show:true, fontSize:11, color:'#4d4d4d', margin:6, fontFamily:FONT, customValues:yTicks[i],
               formatter: v => v.toFixed(1)},
    splitLine:{show:false}
  });
  series.push({
    type:'line', xAxisIndex:i, yAxisIndex:i, data:refs[i], showSymbol:false, silent:true,
    lineStyle:{color:'#a6a6a6', width:2.7, cap:'round', join:'round'}, z:1
  });
  series.push({
    type:'line', xAxisIndex:i, yAxisIndex:i, data:mains[i], showSymbol:false, silent:true,
    lineStyle:{color:colors[i], width:2.8, cap:'round', join:'round'}, z:2
  });
  const cx = (i % 2 === 0) ? 294 : 868;
  graphic.push({
    type:'text', x: cx, y: L.top - 18,
    style:{text:titles[i], fill:'#000', font:'bold 19px ' + FONT,
           textAlign:'center', textVerticalAlign:'middle', align:'center', verticalAlign:'middle'}
  });
}

const chart = echarts.init(document.getElementById('c'), null, {renderer:'canvas'});
chart.setOption({
  animation:false,
  backgroundColor:'#fff',
  grid, xAxis, yAxis, series, graphic
});
</script>
</body></html>
